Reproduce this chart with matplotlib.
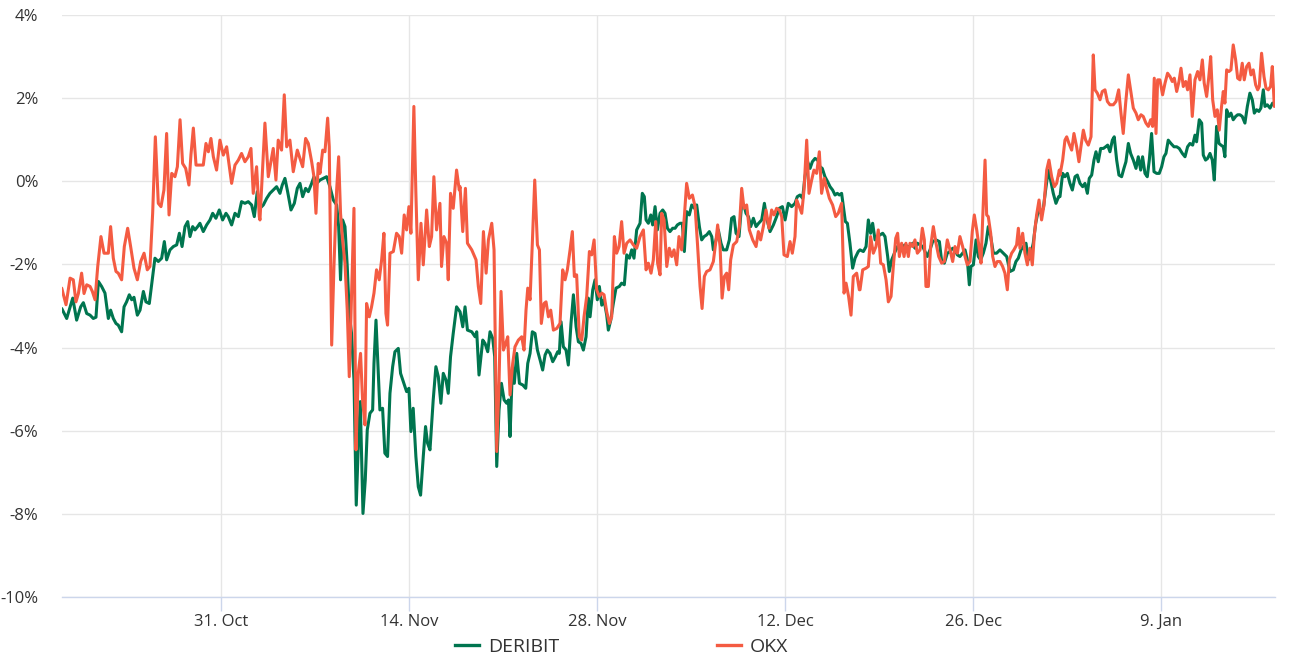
import matplotlib
matplotlib.use("Agg")
import matplotlib.pyplot as plt
from matplotlib.lines import Line2D
from matplotlib.ticker import FuncFormatter
from datetime import datetime, timedelta

START = datetime(2022, 10, 19)

# (days since START, basis %)
DERIBIT = [
    (0.14,-3.06),(0.51,-3.3),(0.96,-2.81),(1.25,-3.34),(1.55,-3.02),(1.75,-2.92),(2.0,-3.18),(2.25,-3.22),
    (2.49,-3.3),(2.69,-3.27),(2.87,-2.41),(3.11,-2.53),(3.36,-2.69),(3.61,-3.3),(3.78,-3.1),(3.98,-3.3),
    (4.18,-3.42),(4.35,-3.46),(4.6,-3.62),(4.78,-3.02),(4.97,-2.9),(5.17,-2.73),(5.35,-2.85),(5.52,-2.79),
    (5.77,-3.22),(5.97,-3.1),(6.22,-2.65),(6.41,-2.9),(6.66,-2.94),(6.91,-2.29),(7.08,-1.85),(7.33,-1.93),
    (7.58,-1.85),(7.78,-1.45),(7.95,-1.89),(8.2,-1.65),(8.45,-1.57),(8.7,-1.53),(8.9,-1.25),(9.1,-1.57),
    (9.32,-1.09),(9.52,-0.97),(9.69,-1.33),(9.89,-1.09),(10.06,-1.17),(10.26,-1.09),(10.43,-1.01),(10.68,-1.21),
    (10.93,-1.05),(11.18,-0.93),(11.38,-0.77),(11.62,-0.89),(11.87,-0.69),(12.12,-0.93),(12.37,-0.77),(12.54,-0.85),
    (12.79,-1.05),(13.04,-0.77),(13.29,-0.85),(13.53,-0.49),(13.78,-0.53),(14.03,-0.49),(14.28,-0.57),(14.48,-0.85),
    (14.7,-0.25),
    (14.9,-0.65),(15.15,-0.57),(15.4,-0.41),(15.64,-0.29),(15.89,-0.21),(16.14,-0.13),(16.39,-0.29),(16.56,-0.09),
    (16.76,0.07),(16.96,-0.25),(17.21,-0.69),(17.46,-0.53),(17.68,-0.17),(17.88,-0.05),(18.08,-0.37),(18.3,-0.17),
    (18.5,-0.25),(18.75,-0.05),(18.92,0.11),(19.12,-0.05),(19.37,0.03),(19.61,0.07),(19.86,0.11),(20.11,-0.13),
    (20.36,-0.45),(20.61,-0.57),(20.76,-1.09),(20.9,-2.37),(21.05,-0.93),(21.23,-1.09),(21.4,-2.05),(21.55,-3.18),
    (21.72,-3.66),(21.9,-4.78),(22.07,-7.79),(22.22,-6.38),(22.37,-5.3),(22.57,-7.99),(22.74,-7.19),(22.89,-5.98),
    (23.09,-5.58),(23.29,-5.5),(23.39,-4.38),(23.54,-3.34),(23.68,-4.38),(23.83,-5.5),(24.03,-5.46),(24.2,-6.54),
    (24.4,-6.62),(24.58,-5.1),(24.78,-4.46),(24.95,-4.1),(25.2,-4.02),(25.37,-4.62),(25.62,-4.86),(25.82,-5.06),
    (25.99,-4.98),(26.14,-6.02),(26.31,-5.46),(26.51,-6.62),(26.69,-7.35),(26.86,-7.55),(27.06,-6.62),(27.23,-5.9),
    (27.38,-6.3),(27.56,-6.46),(27.8,-5.26),(28.0,-4.46),(28.18,-4.7),(28.37,-5.34),(28.55,-4.62),(28.75,-4.78),
    (28.92,-5.1),(29.09,-4.22),(29.29,-3.66),(29.54,-3.02),
    (29.8,-3.14),(30.0,-3.5),(30.17,-3.02),(30.35,-3.58),(30.67,-3.62),(30.92,-3.74),(31.04,-3.62),(31.21,-4.66),
    (31.49,-3.82),(31.66,-3.9),(31.86,-4.1),(32.03,-3.62),(32.23,-3.78),(32.38,-4.22),(32.53,-6.86),(32.7,-5.5),
    (32.88,-4.86),(33.08,-5.26),(33.27,-5.34),(33.4,-5.26),(33.52,-6.14),(33.7,-4.46),(33.84,-4.86),(34.02,-4.14),
    (34.22,-4.86),(34.47,-4.9),(34.69,-4.98),(34.84,-4.38),(35.01,-4.14),(35.18,-3.62),(35.38,-3.66),(35.56,-4.06),
    (35.76,-4.3),(35.95,-4.54),(36.13,-4.18),(36.3,-4.06),(36.5,-4.14),(36.7,-4.34),(36.9,-4.22),(37.07,-4.1),
    (37.19,-4.14),(37.32,-3.38),(37.49,-3.98),(37.69,-4.06),(37.86,-4.42),(38.06,-3.42),(38.24,-2.73),(38.44,-3.5),
    (38.61,-3.86),(38.81,-3.9),(38.98,-4.06),(39.18,-3.74),(39.35,-2.81),(39.48,-3.26),(39.68,-2.61),(39.85,-2.37),
    (40.02,-2.85),(40.17,-2.53),(40.35,-2.98),(40.52,-2.85),(40.72,-3.22),(40.84,-3.58),(41.02,-3.34),(41.21,-2.94),
    (41.41,-2.57),(41.66,-2.53),(41.83,-2.45),(42.03,-2.49),(42.21,-1.77),(42.41,-1.85),(42.58,-1.65),(42.75,-1.85),
    (42.95,-1.17),(43.2,-1.01),(43.37,-0.29),(43.52,-0.37),(43.65,-0.93),(43.82,-1.01),(44.0,-0.81),(44.14,-1.05),
    (44.32,-0.61),(44.49,-1.17),
    (44.69,-0.77),(44.89,-0.69),(45.06,-0.77),(45.24,-1.13),(45.43,-1.21),(45.63,-1.13),(45.81,-1.13),(45.98,-1.05),
    (46.18,-1.01),(46.35,-1.01),(46.5,-1.69),(46.67,-0.73),(46.87,-0.81),(47.05,-0.57),(47.25,-0.65),(47.42,-0.57),
    (47.62,-1.09),(47.79,-1.41),(47.97,-1.33),(48.16,-1.29),(48.36,-1.21),(48.54,-1.33),(48.66,-1.65),(48.86,-1.41),
    (49.03,-1.17),(49.23,-1.49),(49.4,-1.65),(49.65,-1.65),(49.85,-1.41),(50.02,-0.89),(50.2,-0.85),(50.35,-1.25),
    (50.57,-1.33),(50.77,-0.53),(50.94,-0.57),(51.09,-0.77),(51.27,-0.85),(51.44,-1.09),(51.64,-0.89),(51.84,-1.09),
    (52.03,-1.01),(52.26,-0.93),(52.46,-0.53),(52.63,-0.89),(52.88,-1.21),(53.13,-1.05),(53.37,-0.85),(53.57,-0.65),
    (53.8,-0.61),(54.0,-0.93),(54.24,-0.53),(54.49,-0.61),(54.74,-0.53),(54.91,-0.37),(55.11,-0.33),(55.31,-0.41),
    (55.48,0.11),(55.68,0.47),(55.86,0.31),(56.03,0.47),(56.23,0.55),(56.43,0.51),(56.6,0.35),(56.77,0.31),
    (56.97,0.11),(57.17,-0.01),(57.35,-0.13),(57.54,-0.21),(57.72,-0.33),(57.89,-0.29),(58.04,-0.33),(58.21,-0.29),
    (58.34,-0.61),(58.49,-0.97),(58.64,-1.01),(58.83,-1.49),(59.03,-2.09),(59.21,-1.85),(59.45,-1.69),
    (59.58,-1.65),(59.83,-1.69),(60.03,-1.57),(60.2,-0.93),(60.37,-1.25),(60.52,-1.01),(60.7,-1.41),(60.87,-1.33),
    (61.07,-1.29),(61.27,-1.25),(61.44,-1.33),(61.64,-1.81),(61.76,-2.17),(61.94,-1.89),(62.14,-1.73),(62.36,-1.57),
    (62.56,-1.65),(62.76,-1.57),(62.93,-1.53),(63.13,-1.57),(63.3,-1.57),(63.5,-1.49),(63.67,-1.61),(63.85,-1.49),
    (64.05,-1.53),(64.25,-1.57),(64.42,-1.69),(64.59,-1.81),(64.79,-1.65),(64.99,-1.45),(65.24,-1.41),(65.49,-1.45),
    (65.66,-1.93),(65.86,-1.97),(66.08,-1.73),(66.28,-1.69),(66.48,-1.61),(66.65,-1.65),(66.83,-1.77),(67.02,-1.81),
    (67.22,-1.73),(67.4,-1.65),(67.57,-1.89),(67.72,-2.49),(67.84,-2.05),(68.02,-2.01),(68.22,-1.41),(68.39,-1.81),
    (68.56,-1.89),(68.76,-1.73),(68.96,-1.49),(69.13,-1.09),(69.31,-1.33),(69.51,-1.73),(69.75,-1.73),(70.0,-1.65),
    (70.25,-1.73),(70.5,-1.81),(70.75,-2.17),(71.0,-2.13),(71.19,-1.93),(71.37,-1.85),(71.57,-1.65),(71.74,-1.57),
    (71.94,-1.49),(72.11,-1.89),(72.29,-1.77),(72.48,-1.49),(72.66,-1.01),(72.86,-0.69),(73.05,-0.77),(73.23,-0.65),
    (73.4,-0.21),(73.6,0.27),(73.77,0.03),(73.97,-0.29),(74.17,-0.53),(74.37,-0.37),
    (74.47,-0.37),(74.67,0.19),(74.84,0.11),(75.02,0.19),(75.21,-0.05),(75.39,-0.21),(75.59,0.11),(75.76,0.15),
    (75.96,-0.05),(76.16,-0.13),(76.33,-0.05),(76.51,-0.29),(76.65,0.07),(76.83,0.15),(77.0,0.51),(77.15,0.71),
    (77.32,0.47),(77.5,0.79),(77.7,0.79),(77.87,0.83),(78.02,0.87),(78.19,0.71),(78.37,0.99),(78.51,1.07),
    (78.69,0.51),(78.86,0.15),(79.06,0.11),(79.23,0.31),(79.38,0.47),(79.56,0.91),(79.73,0.67),(79.93,0.51),
    (80.13,0.31),(80.3,0.59),(80.48,0.27),(80.62,0.59),(80.8,0.19),(80.97,0.11),(81.12,0.51),(81.29,1.15),
    (81.47,0.23),(81.67,0.19),(81.86,0.19),(82.04,0.35),(82.21,0.59),(82.36,0.67),(82.53,0.99),(82.73,0.91),
    (82.96,0.83),(83.16,0.83),(83.35,0.79),(83.58,0.67),(83.78,0.59),(83.97,0.83),(84.15,0.91),(84.35,0.87),
    (84.52,1.11),(84.64,0.95),(84.84,1.48),(85.02,1.4),(85.14,0.63),(85.31,0.51),(85.46,0.55),(85.64,0.67),
    (85.81,0.51),(85.96,0.03),(86.13,1.32),(86.31,0.91),(86.46,0.87),(86.63,0.83),(86.75,0.59),(86.88,1.72),
    (87.05,1.56),(87.2,1.64),(87.37,1.48),(87.55,1.56),(87.7,1.6),(87.87,1.6),(88.04,1.56),(88.24,1.4),
    (88.42,1.8),(88.61,2.12),(88.79,1.96),(88.94,1.64),(89.11,1.72),(89.28,1.68),(89.43,1.76),(89.61,2.2),
    (89.73,1.8),(89.91,1.84),(90.11,1.76),(90.3,1.88),(90.43,1.88),
]

OKX = [
    (0.14,-2.57),(0.46,-2.97),(0.76,-2.33),(1.0,-2.37),(1.2,-2.9),(1.38,-2.7),(1.62,-2.21),(1.8,-2.7),
    (2.0,-2.49),(2.25,-2.53),(2.42,-2.65),(2.62,-2.85),(2.82,-2.05),(3.06,-1.33),(3.29,-1.73),(3.61,-1.73),
    (3.78,-1.09),(3.98,-1.85),(4.18,-2.17),(4.35,-2.21),(4.6,-2.37),(4.8,-1.57),(5.05,-1.13),(5.27,-1.57),
    (5.52,-2.09),(5.77,-2.37),(6.02,-1.93),(6.27,-1.73),(6.51,-2.13),(6.71,-2.05),(6.91,-0.77),(7.11,1.07),
    (7.33,-0.53),(7.53,-0.61),(7.75,-0.21),(7.95,1.15),(8.13,-0.81),(8.33,0.19),(8.57,0.11),(8.75,0.35),
    (8.95,1.48),(9.14,0.43),(9.37,0.31),(9.61,-0.09),(9.76,0.63),(9.94,1.28),(10.14,0.39),(10.43,0.39),
    (10.68,0.39),(10.88,0.91),(11.06,0.71),(11.25,1.03),(11.43,0.59),(11.67,0.27),(11.92,0.99),(12.17,0.63),
    (12.42,0.83),(12.79,-0.05),(13.04,0.39),(13.29,0.51),(13.53,0.67),(13.78,0.47),(14.03,0.59),(14.23,0.79),
    (14.4,-0.29),(14.65,0.35),(14.85,-0.85),
    (14.9,-0.93),(15.27,1.4),(15.52,0.11),(15.89,0.79),(16.09,0.03),(16.26,0.99),(16.51,0.75),(16.71,2.08),
    (16.89,0.83),(17.13,0.99),(17.38,0.23),(17.68,0.75),(17.88,0.55),(18.08,0.35),(18.3,1.03),(18.5,0.91),
    (18.75,0.47),(18.92,0.11),(19.07,-0.77),(19.24,0.43),(19.37,0.19),(19.57,0.75),(19.74,0.71),(19.94,1.52),
    (20.06,0.83),(20.24,-3.94),(20.41,-2.05),(20.61,-0.21),(20.76,0.59),(20.9,-0.77),(21.05,-1.41),(21.23,-1.97),
    (21.4,-3.1),(21.55,-4.7),(21.72,-2.69),(21.9,-0.65),(22.05,-6.46),(22.22,-4.62),(22.39,-4.14),(22.54,-5.26),
    (22.72,-5.86),(22.84,-2.94),(23.04,-3.26),(23.21,-3.02),(23.39,-2.69),(23.58,-2.13),(23.78,-2.37),(23.96,-1.89),
    (24.13,-1.25),(24.28,-3.18),(24.4,-3.46),(24.58,-1.73),(24.83,-1.69),(25.07,-1.25),(25.27,-1.33),(25.45,-1.73),
    (25.64,-0.81),(25.82,-1.17),(25.99,-0.61),(26.14,-1.25),(26.36,1.8),(26.51,-0.29),(26.69,-2.37),(26.89,-1.01),
    (27.06,-2.01),(27.31,-0.69),(27.51,-1.57),(27.68,-1.33),(27.85,0.11),(28.05,-1.17),(28.3,-0.53),(28.42,-2.05),
    (28.6,-1.33),(28.8,-1.49),(28.92,-2.37),(29.09,-0.29),(29.29,-0.65),(29.54,0.27),(29.74,-0.21),
    (29.8,-0.13),(30.0,-1.21),(30.2,-0.17),(30.35,-1.49),(30.67,-1.65),(30.99,-1.89),(31.16,-2.53),(31.34,-2.94),
    (31.54,-1.21),(31.74,-2.21),(31.91,-1.41),(32.16,-1.01),(32.33,-1.65),(32.53,-6.5),(32.7,-4.86),(32.85,-2.65),
    (33.03,-4.06),(33.2,-3.9),(33.35,-3.74),(33.52,-5.14),(33.72,-4.38),(33.89,-3.98),(34.14,-3.82),(34.39,-3.74),
    (34.56,-4.06),(34.71,-3.1),(34.84,-2.57),(35.01,-2.85),(35.18,-1.49),(35.36,0.03),(35.56,-1.53),(35.71,-1.65),
    (35.85,-3.42),(36.05,-2.94),(36.2,-2.9),(36.38,-3.26),(36.55,-3.1),(36.75,-3.58),(37.0,-3.54),(37.24,-3.42),
    (37.44,-2.13),(37.62,-2.37),(37.79,-2.13),(37.99,-1.65),(38.16,-1.21),(38.31,-2.29),(38.48,-2.25),(38.68,-3.74),
    (38.86,-3.82),(39.03,-3.26),(39.23,-2.77),(39.43,-1.69),(39.6,-1.77),(39.78,-1.41),(39.97,-2.61),(40.17,-2.77),
    (40.35,-2.69),(40.52,-2.73),(40.72,-3.14),(40.92,-3.42),(41.09,-3.26),(41.29,-1.33),(41.46,-1.73),(41.64,-1.57),
    (41.83,-0.97),(42.01,-1.73),(42.21,-1.49),(42.46,-1.41),(42.7,-1.53),(42.95,-1.61),(43.2,-1.33),(43.45,-1.17),
    (43.65,-2.13),(43.82,-1.97),(44.02,-2.21),(44.19,-1.89),(44.37,-0.97),(44.51,-1.97),
    (44.69,-2.25),(44.81,-0.77),(44.99,-0.93),(45.19,-2.05),(45.38,-1.61),(45.56,-1.81),(45.73,-1.65),(45.93,-2.01),
    (46.1,-1.33),(46.3,-1.65),(46.5,-0.85),(46.67,-0.05),(46.87,-0.41),(47.1,-0.33),(47.3,-0.61),(47.49,-1.57),
    (47.67,-2.53),(47.82,-3.06),(47.99,-2.29),(48.16,-2.17),(48.41,-2.13),(48.66,-1.93),(48.86,-1.41),(48.98,-1.05),
    (49.16,-1.57),(49.31,-2.81),(49.48,-2.29),(49.65,-2.21),(49.8,-2.61),(49.95,-1.89),(50.15,-1.53),(50.4,-1.45),
    (50.6,-1.09),(50.77,-0.17),(50.94,-0.65),(51.14,-0.57),(51.34,-1.17),(51.59,-1.41),(51.84,-1.57),(52.01,-1.21),
    (52.18,-1.41),(52.38,-1.09),(52.58,-0.69),(52.8,-1.13),(53.0,-0.69),(53.18,-0.81),(53.37,-0.65),(53.57,-0.69),
    (53.75,-0.85),(53.92,-1.77),(54.17,-1.81),(54.37,-1.45),(54.54,-1.73),(54.74,-1.33),(54.86,-0.45),(55.06,-0.61),
    (55.24,-0.77),(55.41,-0.21),(55.61,0.99),(55.78,-0.29),(55.98,0.03),(56.15,0.27),(56.35,0.19),(56.55,0.71),
    (56.72,-0.29),(56.92,0.07),(57.1,-0.17),(57.3,-0.41),(57.54,-0.57),(57.77,-0.85),(57.96,-0.77),(58.21,-0.53),
    (58.39,-2.69),(58.54,-2.45),(58.73,-2.77),(58.91,-3.22),(59.08,-2.29),(59.33,-2.21),(59.53,-2.61),
    (59.58,-2.61),(59.78,-2.13),(60.03,-2.09),(60.2,-2.05),(60.37,-1.33),(60.57,-1.73),(60.77,-1.57),(60.94,-1.17),
    (61.12,-1.97),(61.32,-2.01),(61.52,-2.37),(61.69,-2.9),(61.89,-2.77),(62.06,-2.05),(62.24,-1.37),(62.38,-1.25),
    (62.51,-1.81),(62.68,-1.49),(62.86,-1.81),(63.0,-1.49),(63.18,-1.81),(63.3,-1.49),(63.5,-1.57),(63.67,-1.41),
    (63.85,-1.73),(64.05,-1.65),(64.22,-1.13),(64.37,-1.41),(64.49,-2.53),(64.67,-2.53),(64.84,-1.57),(65.04,-1.09),
    (65.24,-1.49),(65.44,-1.81),(65.66,-1.97),(65.86,-1.93),(66.08,-1.41),(66.28,-1.65),(66.48,-1.93),(66.65,-1.57),
    (66.83,-1.73),(67.02,-1.33),(67.22,-1.57),(67.4,-1.81),(67.57,-2.01),(67.77,-1.93),(67.94,-1.21),(68.09,-0.81),
    (68.27,-1.17),(68.44,-1.57),(68.59,-1.97),(68.71,-0.93),(68.89,0.51),(69.01,-0.81),(69.13,-0.85),(69.31,-1.25),
    (69.46,-1.81),(69.63,-2.05),(69.8,-1.93),(70.0,-1.93),(70.2,-2.05),(70.37,-2.21),(70.55,-2.61),(70.7,-1.89),
    (70.87,-1.73),(71.04,-1.65),(71.24,-1.53),(71.37,-1.13),(71.49,-1.61),(71.69,-1.25),(71.86,-1.73),(72.04,-2.01),
    (72.23,-1.61),(72.41,-2.01),(72.56,-1.29),(72.73,-0.81),(72.91,-0.45),(73.1,-0.93),(73.28,-0.57),(73.48,0.27),
    (73.65,0.51),(73.85,0.11),(74.05,-0.13),(74.22,-0.05),(74.42,0.27),
    (74.47,0.15),(74.67,0.51),(74.84,0.99),(74.97,1.07),(75.14,0.91),(75.34,0.75),(75.51,1.15),(75.71,0.83),
    (75.88,0.47),(76.03,0.83),(76.21,1.23),(76.38,0.99),(76.58,0.87),(76.78,1.07),(76.95,3.04),(77.08,2.2),
    (77.25,2.12),(77.45,1.96),(77.62,2.16),(77.82,2.2),(78.0,1.92),(78.19,1.84),(78.44,1.84),(78.64,1.92),
    (78.84,2.2),(79.01,1.64),(79.18,1.15),(79.36,1.88),(79.56,2.56),(79.73,2.2),(79.93,1.76),(80.13,1.64),
    (80.3,1.48),(80.5,1.6),(80.67,1.56),(80.87,1.4),(81.05,1.32),(81.22,1.48),(81.37,1.32),(81.49,2.48),
    (81.62,1.15),(81.74,2.44),(81.91,2.44),(82.11,2.08),(82.29,2.36),(82.48,2.6),(82.66,2.52),(82.83,2.4),
    (82.98,2.48),(83.16,2.16),(83.33,2.4),(83.48,2.72),(83.65,2.28),(83.83,2.4),(83.97,2.2),(84.15,2.56),
    (84.32,1.56),(84.52,2.44),(84.72,2.64),(84.89,2.44),(85.07,2.92),(85.21,2.36),(85.39,2.04),(85.54,2.48),
    (85.69,3.0),(85.84,1.96),(86.01,1.56),(86.18,1.72),(86.33,1.23),(86.5,1.8),(86.63,2.16),(86.75,1.88),
    (86.88,2.68),(87.05,2.64),(87.2,2.68),(87.37,3.28),(87.55,2.92),(87.7,2.48),(87.87,2.44),(88.04,2.84),
    (88.19,2.44),(88.37,2.76),(88.54,2.84),(88.69,2.56),(88.86,2.68),(89.04,2.32),(89.19,2.2),(89.31,2.28),
    (89.48,3.08),(89.66,2.52),(89.81,2.24),(89.98,2.2),(90.15,2.28),(90.28,2.76),(90.43,1.8),
]

SERIES_NAMES = ["DERIBIT", "OKX"]
X_TICK_DATES = ["2022-10-31", "2022-11-14", "2022-11-28", "2022-12-12", "2022-12-26", "2023-01-09"]
X_TICK_LABELS = ["31. Oct", "14. Nov", "28. Nov", "12. Dec", "26. Dec", "9. Jan"]
Y_TICKS = [-10, -8, -6, -4, -2, 0, 2, 4]
X_RANGE_DAYS = (0.16, 90.48)

COLORS = {"DERIBIT": "#00754f", "OKX": "#f45b42"}

plt.rcParams["font.family"] = ["Open Sans", "DejaVu Sans"]

W, H = 1293, 667
fig = plt.figure(figsize=(W / 100, H / 100), dpi=100)
L, R, T, B = 62, 1275, 15, 597
ax = fig.add_axes([L / W, 1 - B / H, (R - L) / W, (B - T) / H])

def to_dates(days):
    return [START + timedelta(days=d) for d in days]

for name, data in zip(SERIES_NAMES, [DERIBIT, OKX]):
    days = [p[0] for p in data]
    vals = [p[1] for p in data]
    ax.plot(to_dates(days), vals, color=COLORS[name], lw=2.2,
            solid_joinstyle="round", solid_capstyle="round", zorder=3)

ax.set_xlim(START + timedelta(days=X_RANGE_DAYS[0]), START + timedelta(days=X_RANGE_DAYS[1]))
ax.set_ylim(Y_TICKS[0], Y_TICKS[-1])
ax.set_yticks(Y_TICKS)
ax.yaxis.set_major_formatter(FuncFormatter(lambda v, p: f"{v:.0f}%"))
tick_dates = [datetime.strptime(s, "%Y-%m-%d") for s in X_TICK_DATES]
ax.set_xticks(tick_dates)
ax.set_xticklabels(X_TICK_LABELS)

for s in ["top", "right", "left"]:
    ax.spines[s].set_visible(False)
ax.spines["bottom"].set_color("#ccd6eb")
ax.spines["bottom"].set_linewidth(1.0)

ax.grid(True, axis="both", color="#e6e6e6", linewidth=1.0, zorder=0)
ax.set_axisbelow(True)
ax.tick_params(axis="y", length=0, pad=17, labelsize=12, labelcolor="#333333")
ax.tick_params(axis="x", length=10, width=1, color="#ccd6eb", pad=2, labelsize=12,
               labelcolor="#333333")

handles = [Line2D([0], [0], color=COLORS[n], lw=2.4) for n in SERIES_NAMES]
fig.legend(handles, SERIES_NAMES, loc="center", bbox_to_anchor=(621.5 / W, 1 - 647 / H),
           ncol=2, frameon=False, fontsize=14, handlelength=1.25, handletextpad=0.46,
           columnspacing=8.1, labelcolor="#333333")

fig.savefig("out.png", dpi=100)
